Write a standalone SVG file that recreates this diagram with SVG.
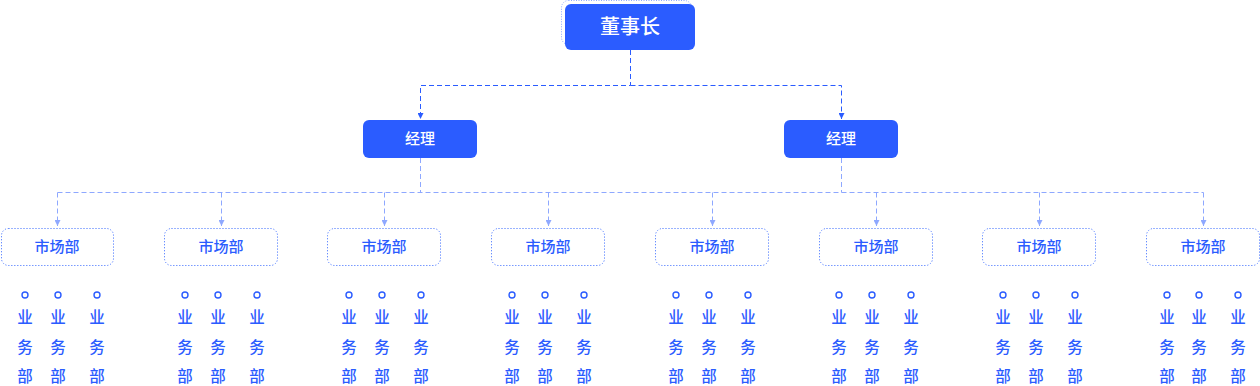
<svg xmlns="http://www.w3.org/2000/svg" width="1260" height="386" viewBox="0 0 1260 386">
<defs>
<style>
.cj{font-family:"Noto Sans CJK SC","Noto Sans",sans-serif;}
.top{fill:#2b5cff;}
.ttl{fill:#fff;font-size:20px;font-weight:500;text-anchor:middle;}
.mgr{fill:#fff;font-size:15px;font-weight:500;text-anchor:middle;}
.mkt{fill:#fff;stroke:#3366ff;stroke-width:1;stroke-dasharray:1 2;}
.mt{fill:#2b5cff;font-size:15px;font-weight:500;text-anchor:middle;}
.vt{fill:#2b5cff;font-size:15.5px;font-weight:500;text-anchor:middle;}
.dot{fill:none;stroke:#2b5cff;stroke-width:1.4;}
.l1{fill:none;stroke:#2b5cff;stroke-width:1;stroke-dasharray:5 3;}
.l2{fill:none;stroke:#8ea8ff;stroke-width:1;stroke-dasharray:5 3;}
</style>
<marker id="a1" viewBox="0 0 10 10" refX="10" refY="5" markerWidth="6" markerHeight="6" orient="auto"><path d="M0,0L10,5L0,10z" fill="#2b5cff"/></marker>
<marker id="a2" viewBox="0 0 10 10" refX="10" refY="5" markerWidth="6" markerHeight="6" orient="auto"><path d="M0,0L10,5L0,10z" fill="#8ea8ff"/></marker>
</defs>
<g id="connectors">
<path class="l1" d="M630.5,50V85.5H420.5V119" marker-end="url(#a1)"/>
<path class="l1" d="M630.5,85.5H841.5V119" marker-end="url(#a1)"/>
<path class="l2" d="M420.5,158V192.5"/>
<path class="l2" d="M841.5,158V192.5"/>
<path class="l2" d="M57.5,192.5H1203.5"/>
<path class="l2" d="M57.5,192.5V226" marker-end="url(#a2)"/>
<path class="l2" d="M221.5,192.5V226" marker-end="url(#a2)"/>
<path class="l2" d="M384.5,192.5V226" marker-end="url(#a2)"/>
<path class="l2" d="M548.5,192.5V226" marker-end="url(#a2)"/>
<path class="l2" d="M712.5,192.5V226" marker-end="url(#a2)"/>
<path class="l2" d="M876.5,192.5V226" marker-end="url(#a2)"/>
<path class="l2" d="M1039.5,192.5V226" marker-end="url(#a2)"/>
<path class="l2" d="M1203.5,192.5V226" marker-end="url(#a2)"/>
</g>
<g id="chairman">
<rect x="561.5" y="0.5" width="130" height="44" rx="7" fill="none" stroke="#8ea8ff" stroke-width="1" stroke-dasharray="1 1.5"/>
<rect class="top" x="565" y="4" width="130" height="46" rx="6"/>
<text class="cj ttl" x="630" y="34">董事长</text>
</g>
<g id="manager1">
<rect class="top" x="363" y="120" width="114" height="38" rx="6"/>
<text class="cj mgr" x="420" y="144">经理</text>
</g>
<g id="manager2">
<rect class="top" x="784" y="120" width="114" height="38" rx="6"/>
<text class="cj mgr" x="841" y="144">经理</text>
</g>
<g id="market1">
<rect class="mkt" x="1.5" y="228.5" width="112" height="37" rx="7"/>
<text class="cj mt" x="57" y="252">市场部</text>
<circle class="dot" cx="25" cy="295" r="3"/><circle class="dot" cx="58" cy="295" r="3"/><circle class="dot" cx="97" cy="295" r="3"/>
<text class="cj vt" x="25" y="323">业</text><text class="cj vt" x="58" y="323">业</text><text class="cj vt" x="97" y="323">业</text>
<text class="cj vt" x="25" y="353">务</text><text class="cj vt" x="58" y="353">务</text><text class="cj vt" x="97" y="353">务</text>
<text class="cj vt" x="25" y="382">部</text><text class="cj vt" x="58" y="382">部</text><text class="cj vt" x="97" y="382">部</text>
</g>
<g id="market2" transform="translate(164,0)">
<rect class="mkt" x="0.5" y="228.5" width="113" height="37" rx="7"/>
<text class="cj mt" x="57" y="252">市场部</text>
<circle class="dot" cx="21" cy="295" r="3"/><circle class="dot" cx="54" cy="295" r="3"/><circle class="dot" cx="93" cy="295" r="3"/>
<text class="cj vt" x="21" y="323">业</text><text class="cj vt" x="54" y="323">业</text><text class="cj vt" x="93" y="323">业</text>
<text class="cj vt" x="21" y="353">务</text><text class="cj vt" x="54" y="353">务</text><text class="cj vt" x="93" y="353">务</text>
<text class="cj vt" x="21" y="382">部</text><text class="cj vt" x="54" y="382">部</text><text class="cj vt" x="93" y="382">部</text>
</g>
<g id="market3" transform="translate(327,0)">
<rect class="mkt" x="0.5" y="228.5" width="113" height="37" rx="7"/>
<text class="cj mt" x="57" y="252">市场部</text>
<circle class="dot" cx="22" cy="295" r="3"/><circle class="dot" cx="55" cy="295" r="3"/><circle class="dot" cx="94" cy="295" r="3"/>
<text class="cj vt" x="22" y="323">业</text><text class="cj vt" x="55" y="323">业</text><text class="cj vt" x="94" y="323">业</text>
<text class="cj vt" x="22" y="353">务</text><text class="cj vt" x="55" y="353">务</text><text class="cj vt" x="94" y="353">务</text>
<text class="cj vt" x="22" y="382">部</text><text class="cj vt" x="55" y="382">部</text><text class="cj vt" x="94" y="382">部</text>
</g>
<g id="market4" transform="translate(491,0)">
<rect class="mkt" x="0.5" y="228.5" width="113" height="37" rx="7"/>
<text class="cj mt" x="57" y="252">市场部</text>
<circle class="dot" cx="21" cy="295" r="3"/><circle class="dot" cx="54" cy="295" r="3"/><circle class="dot" cx="93" cy="295" r="3"/>
<text class="cj vt" x="21" y="323">业</text><text class="cj vt" x="54" y="323">业</text><text class="cj vt" x="93" y="323">业</text>
<text class="cj vt" x="21" y="353">务</text><text class="cj vt" x="54" y="353">务</text><text class="cj vt" x="93" y="353">务</text>
<text class="cj vt" x="21" y="382">部</text><text class="cj vt" x="54" y="382">部</text><text class="cj vt" x="93" y="382">部</text>
</g>
<g id="market5" transform="translate(655,0)">
<rect class="mkt" x="0.5" y="228.5" width="113" height="37" rx="7"/>
<text class="cj mt" x="57" y="252">市场部</text>
<circle class="dot" cx="21" cy="295" r="3"/><circle class="dot" cx="54" cy="295" r="3"/><circle class="dot" cx="93" cy="295" r="3"/>
<text class="cj vt" x="21" y="323">业</text><text class="cj vt" x="54" y="323">业</text><text class="cj vt" x="93" y="323">业</text>
<text class="cj vt" x="21" y="353">务</text><text class="cj vt" x="54" y="353">务</text><text class="cj vt" x="93" y="353">务</text>
<text class="cj vt" x="21" y="382">部</text><text class="cj vt" x="54" y="382">部</text><text class="cj vt" x="93" y="382">部</text>
</g>
<g id="market6" transform="translate(819,0)">
<rect class="mkt" x="0.5" y="228.5" width="113" height="37" rx="7"/>
<text class="cj mt" x="57" y="252">市场部</text>
<circle class="dot" cx="20" cy="295" r="3"/><circle class="dot" cx="53" cy="295" r="3"/><circle class="dot" cx="92" cy="295" r="3"/>
<text class="cj vt" x="20" y="323">业</text><text class="cj vt" x="53" y="323">业</text><text class="cj vt" x="92" y="323">业</text>
<text class="cj vt" x="20" y="353">务</text><text class="cj vt" x="53" y="353">务</text><text class="cj vt" x="92" y="353">务</text>
<text class="cj vt" x="20" y="382">部</text><text class="cj vt" x="53" y="382">部</text><text class="cj vt" x="92" y="382">部</text>
</g>
<g id="market7" transform="translate(982,0)">
<rect class="mkt" x="0.5" y="228.5" width="113" height="37" rx="7"/>
<text class="cj mt" x="57" y="252">市场部</text>
<circle class="dot" cx="21" cy="295" r="3"/><circle class="dot" cx="54" cy="295" r="3"/><circle class="dot" cx="93" cy="295" r="3"/>
<text class="cj vt" x="21" y="323">业</text><text class="cj vt" x="54" y="323">业</text><text class="cj vt" x="93" y="323">业</text>
<text class="cj vt" x="21" y="353">务</text><text class="cj vt" x="54" y="353">务</text><text class="cj vt" x="93" y="353">务</text>
<text class="cj vt" x="21" y="382">部</text><text class="cj vt" x="54" y="382">部</text><text class="cj vt" x="93" y="382">部</text>
</g>
<g id="market8" transform="translate(1146,0)">
<rect class="mkt" x="0.5" y="228.5" width="113" height="37" rx="7"/>
<text class="cj mt" x="57" y="252">市场部</text>
<circle class="dot" cx="21" cy="295" r="3"/><circle class="dot" cx="53" cy="295" r="3"/><circle class="dot" cx="92" cy="295" r="3"/>
<text class="cj vt" x="21" y="323">业</text><text class="cj vt" x="53" y="323">业</text><text class="cj vt" x="92" y="323">业</text>
<text class="cj vt" x="21" y="353">务</text><text class="cj vt" x="53" y="353">务</text><text class="cj vt" x="92" y="353">务</text>
<text class="cj vt" x="21" y="382">部</text><text class="cj vt" x="53" y="382">部</text><text class="cj vt" x="92" y="382">部</text>
</g>
</svg>
